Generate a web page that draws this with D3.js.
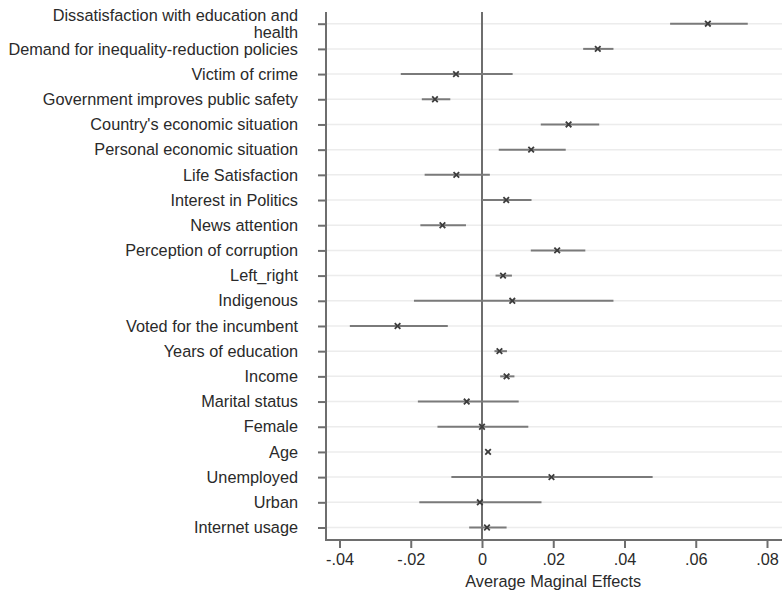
<!DOCTYPE html>
<html>
<head>
<meta charset="utf-8">
<script src="https://cdn.jsdelivr.net/npm/d3@7"></script>
<style>
  html, body { margin: 0; padding: 0; background: #fff; }
  svg { display: block; }
  text { font-family: "Liberation Sans", Arial, Helvetica, sans-serif; }
</style>
</head>
<body>
<script>
const categories = [
  "Dissatisfaction with education and health",
  "Demand for inequality-reduction policies",
  "Victim of crime",
  "Government improves public safety",
  "Country's economic situation",
  "Personal economic situation",
  "Life Satisfaction",
  "Interest in Politics",
  "News attention",
  "Perception of corruption",
  "Left_right",
  "Indigenous",
  "Voted for the incumbent",
  "Years of education",
  "Income",
  "Marital status",
  "Female",
  "Age",
  "Unemployed",
  "Urban",
  "Internet usage"
];
const estimates = [0.0634, 0.0325, -0.0073, -0.0132, 0.0243, 0.0138, -0.0072, 0.0068, -0.0111, 0.0211, 0.0059, 0.0085, -0.0237, 0.0049, 0.0069, -0.0043, 0.0000, 0.0017, 0.0195, -0.0006, 0.0014];
const lower = [0.0528, 0.0284, -0.0228, -0.0169, 0.0165, 0.0047, -0.0161, 0.0000, -0.0173, 0.0137, 0.0038, -0.0191, -0.0371, 0.0035, 0.0051, -0.0180, -0.0125, 0.0013, -0.0086, -0.0176, -0.0036];
const upper = [0.0746, 0.0369, 0.0086, -0.0089, 0.0329, 0.0235, 0.0022, 0.0139, -0.0045, 0.0290, 0.0084, 0.0369, -0.0096, 0.0070, 0.0091, 0.0103, 0.0130, 0.0021, 0.0479, 0.0167, 0.0069];
const xTicks = [-0.04, -0.02, 0, 0.02, 0.04, 0.06, 0.08];
const xTickLabels = ["-.04", "-.02", "0", ".02", ".04", ".06", ".08"];
const xTitle = "Average Maginal Effects";

const W = 782, H = 594;
const FS = 16.3;
const svg = d3.select("body").append("svg").attr("width", W).attr("height", H);

const plotLeft = 326, plotRight = 782, plotTop = 12, plotBottom = 540;
const x = d3.scaleLinear()
  .domain([-0.04, 0.08])
  .range([482 - 0.04 * 3562.5, 482 + 0.08 * 3562.5]);
const y = d3.scalePoint()
  .domain(categories)
  .range([23.7, 527.5]);

const gridColor = "#ececec";
const lineColor = "#7a7a7a";
const axisColor = "#6e6e6e";

// gridlines
svg.append("g").selectAll("line").data(categories).join("line")
  .attr("x1", plotLeft).attr("x2", plotRight)
  .attr("y1", d => y(d)).attr("y2", d => y(d))
  .attr("stroke", gridColor).attr("stroke-width", 1.5);

// zero line
svg.append("line")
  .attr("x1", x(0)).attr("x2", x(0))
  .attr("y1", plotTop).attr("y2", plotBottom)
  .attr("stroke", axisColor).attr("stroke-width", 2);

// y axis
const yAxis = d3.axisLeft(y).tickSize(8).tickPadding(20).tickFormat("");
const gy = svg.append("g").attr("transform", `translate(${plotLeft},0)`).call(yAxis);
gy.select(".domain").remove();
gy.selectAll(".tick line").attr("stroke", axisColor).attr("stroke-width", 2);
svg.append("line")
  .attr("x1", plotLeft).attr("x2", plotLeft)
  .attr("y1", plotTop).attr("y2", plotBottom + 1)
  .attr("stroke", axisColor).attr("stroke-width", 2);

// y labels (with wrap for first)
const labelG = svg.append("g");
categories.forEach((c, i) => {
  const t = labelG.append("text")
    .attr("x", 298)
    .attr("text-anchor", "end")
    .attr("font-size", FS)
    .attr("fill", "#2a2a2a");
  if (i === 0) {
    t.append("tspan").attr("x", 298).attr("y", y(c) - 3).text("Dissatisfaction with education and");
    t.append("tspan").attr("x", 298).attr("y", y(c) + 14).text("health");
  } else {
    t.attr("y", y(c)).attr("dy", "0.35em").text(c);
  }
});

// x axis
const xAxis = d3.axisBottom(x).tickValues(xTicks)
  .tickFormat((d, i) => xTickLabels[i]).tickSize(8).tickPadding(5);
const gx = svg.append("g").attr("transform", `translate(0,${plotBottom})`).call(xAxis);
gx.select(".domain").remove();
gx.selectAll(".tick line").attr("stroke", axisColor).attr("stroke-width", 2);
gx.selectAll(".tick text").attr("font-size", FS).attr("fill", "#2a2a2a")
  .attr("font-family", "Liberation Sans, Arial, sans-serif");
svg.append("line")
  .attr("x1", plotLeft - 1).attr("x2", plotRight)
  .attr("y1", plotBottom).attr("y2", plotBottom)
  .attr("stroke", axisColor).attr("stroke-width", 2);

svg.append("text")
  .attr("x", x(0.02)).attr("y", 587)
  .attr("text-anchor", "middle")
  .attr("font-size", FS).attr("fill", "#2a2a2a")
  .text(xTitle);

// CIs
const data = categories.map((c, i) => ({ c, est: estimates[i], lo: lower[i], hi: upper[i] }));
svg.append("g").selectAll("line").data(data).join("line")
  .attr("x1", d => x(d.lo)).attr("x2", d => x(d.hi))
  .attr("y1", d => y(d.c)).attr("y2", d => y(d.c))
  .attr("stroke", lineColor).attr("stroke-width", 2);

// markers (x)
const s = 2.8;
const mg = svg.append("g").selectAll("g").data(data).join("g")
  .attr("transform", d => `translate(${x(d.est)},${y(d.c)})`);
mg.append("path")
  .attr("d", `M${-s},${-s}L${s},${s}M${-s},${s}L${s},${-s}`)
  .attr("stroke", "#3c3c3c").attr("stroke-width", 1.8).attr("fill", "none");
</script>
</body>
</html>
